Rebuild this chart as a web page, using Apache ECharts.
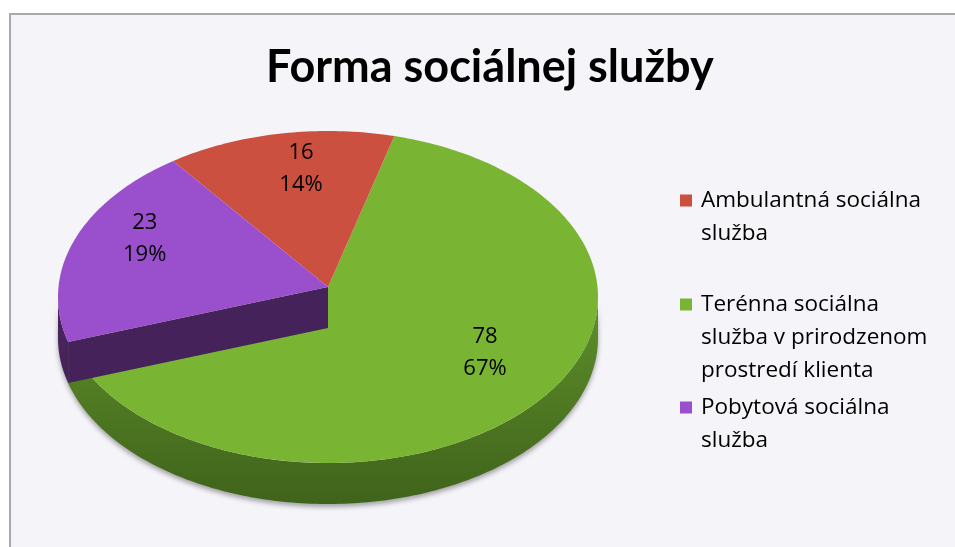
<!DOCTYPE html>
<html>
<head>
<meta charset="utf-8">
<script src="https://cdn.jsdelivr.net/npm/echarts@6/dist/echarts.min.js"></script>
<style>
html, body { margin: 0; padding: 0; background: #fff; }
#main { width: 955px; height: 547px; }
</style>
</head>
<body>
<div id="main"></div>
<script>
const categories = ['Ambulantná sociálna služba', 'Terénna sociálna služba v prirodzenom prostredí klienta', 'Pobytová sociálna služba']
const legendText = ['Ambulantná sociálna\nslužba', 'Terénna sociálna\nslužba v prirodzenom\nprostredí klienta', 'Pobytová sociálna\nslužba']
const values = [16, 78, 23]
const percentLabels = ['14%', '67%', '19%']

const topColors = ['#cb5040', '#79b533', '#9a50cc']
const sideColors = [['#8a3529', '#6a261d'], ['#5f902a', '#3f631b'], ['#4b245f', '#45225a']]
const font = '"Open Sans", Lato, sans-serif'

// pie geometry, 3D look
const cx = 328, cy = 297, rx = 270, ry = 166, apexY = 287, depth = 41
const firstAngle = -35 // degrees clockwise from 12 o'clock
const legendTops = [184, 288, 391]
const lineH = 33

const total = values.reduce((a, b) => a + b, 0)
const starts = []
let acc = 0
values.forEach(v => { starts.push(firstAngle + acc / total * 360); acc += v })

function rim(deg, dy) {
  const r = deg * Math.PI / 180
  return [cx + rx * Math.sin(r), cy - ry * Math.cos(r) + (dy || 0)]
}
function arcPts(a, b, dy) {
  const pts = []
  const n = Math.max(2, Math.ceil(Math.abs(b - a)))
  for (let k = 0; k <= n; k++) pts.push(rim(a + (b - a) * k / n, dy))
  return pts
}

function renderSlice(i, api) {
  let s = starts[i]
  const sweep = api.value(0) / total * 360
  if (s < 0) s += 360
  const e = s + sweep
  const children = []
  const grad = new echarts.graphic.LinearGradient(0, 0, 0, 1, [
    { offset: 0, color: sideColors[i][0] }, { offset: 1, color: sideColors[i][1] }
  ])
  // outer wall, front half only
  ;[90, 450].forEach(base => {
    const a = Math.max(s, base), b = Math.min(e, base + 180)
    if (b > a) {
      children.push({
        type: 'polygon',
        shape: { points: arcPts(a, b, 0).concat(arcPts(b, a, depth)) },
        style: { fill: grad, shadowBlur: 5, shadowOffsetY: 3, shadowColor: 'rgba(0,0,0,0.35)' }
      })
    }
  })
  // cut face facing the viewer
  if (s > 90 && s < 270) {
    const p = rim(s)
    children.push({
      type: 'polygon',
      shape: { points: [[cx, apexY], p, [p[0], p[1] + depth], [cx, apexY + depth]] },
      style: { fill: sideColors[i][1] }
    })
  }
  // top face
  children.push({
    type: 'polygon',
    shape: { points: [[cx, apexY]].concat(arcPts(s, e, 0)) },
    style: { fill: api.visual('color') }
  })
  // label
  const m = (s + sweep / 2) * Math.PI / 180
  children.push({
    type: 'text',
    style: {
      text: values[i] + '\n' + percentLabels[i],
      x: cx + 10 + rx * 0.76 * Math.sin(m),
      y: apexY - 11 - ry * 0.66 * Math.cos(m),
      align: 'center', verticalAlign: 'middle',
      fontSize: 22, lineHeight: 32, fontFamily: font, fill: '#000'
    }
  })
  return { type: 'group', children }
}

function legendIcon(lines) {
  const h = lines * lineH
  const t = (lineH - 12) / 2
  return 'path://M0,0M16,' + h + 'M0,' + t + 'h12v12h-12z'
}

const chart = echarts.init(document.getElementById('main'))
chart.setOption({
  backgroundColor: '#ffffff',
  animation: false,
  graphic: [{
    type: 'rect', left: 9, top: 13, z: 0,
    shape: { width: 960, height: 560 },
    style: { fill: '#f5f4f9', stroke: '#a9a9a9', lineWidth: 2 }
  }],
  title: {
    text: 'Forma sociálnej služby',
    left: 266, top: 45, padding: 0,
    textStyle: { fontSize: 45, fontWeight: 'bold', fontFamily: 'Lato, sans-serif', color: '#000' }
  },
  legend: categories.map((name, i) => ({
    data: [name],
    orient: 'vertical', left: 680, top: legendTops[i], padding: 0,
    selectedMode: false,
    icon: legendIcon(legendText[i].split('\n').length),
    itemWidth: 16, itemHeight: legendText[i].split('\n').length * lineH,
    formatter: () => legendText[i],
    textStyle: { fontSize: 22.5, lineHeight: lineH, fontFamily: font, color: '#000' }
  })),
  series: categories.map((name, i) => ({
    type: 'custom', name, coordinateSystem: 'none',
    z: i === 1 ? 2 : 3,
    itemStyle: { color: topColors[i] },
    data: [values[i]],
    renderItem: (params, api) => renderSlice(i, api)
  }))
})
</script>
</body>
</html>
